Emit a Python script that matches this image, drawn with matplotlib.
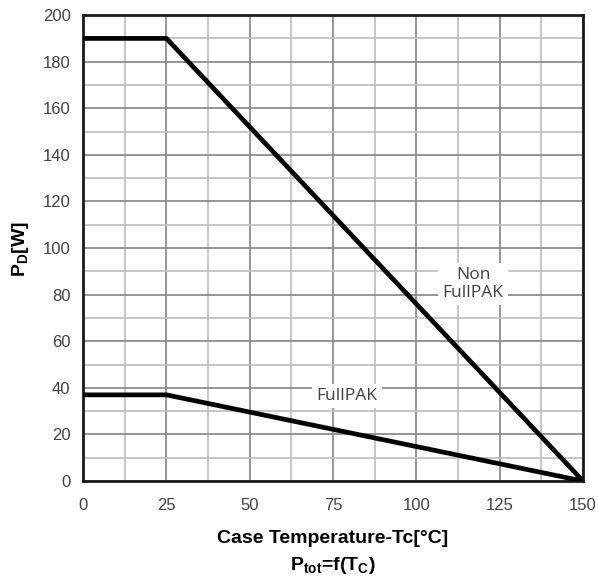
import matplotlib
matplotlib.use("Agg")
import matplotlib.pyplot as plt
from matplotlib.ticker import MultipleLocator

# case temperature [degC] and power dissipation [W]
tc_non = [0, 25, 150]
pd_non = [190, 190, 0]

tc_full = [0, 25, 50, 75, 100, 125, 150]
pd_full = [37, 37, 29.6, 22.2, 14.8, 7.4, 0]

plt.rcParams["font.family"] = ["Liberation Sans", "DejaVu Sans"]

fig = plt.figure(figsize=(5.98, 5.81), dpi=100)
ax = fig.add_axes([0.139, 0.172, 0.836, 0.802])

ax.plot(tc_non, pd_non, color="black", lw=3.4, solid_capstyle="butt", zorder=3)
ax.plot(tc_full, pd_full, color="black", lw=3.4, solid_capstyle="butt", zorder=3)

ax.set_xlim(0, 150)
ax.set_ylim(0, 200)
ax.xaxis.set_major_locator(MultipleLocator(25))
ax.xaxis.set_minor_locator(MultipleLocator(12.5))
ax.yaxis.set_major_locator(MultipleLocator(20))
ax.yaxis.set_minor_locator(MultipleLocator(10))
ax.grid(which="major", color="#8c8c8c", lw=1.3)
ax.grid(which="minor", color="#c0c0c0", lw=1.3)
ax.tick_params(which="both", length=0, labelsize=12, colors="#404040")
ax.tick_params(axis="x", pad=12)
ax.tick_params(axis="y", pad=9)
ax.set_axisbelow(True)
for s in ax.spines.values():
    s.set_linewidth(2)
    s.set_color("#1a1a1a")

box = dict(facecolor="white", edgecolor="none", pad=3)
ax.text(117, 84.7, "Non\nFullPAK", ha="center", va="center", fontsize=12.5,
        family=["Open Sans", "DejaVu Sans"], color="#404040", linespacing=1.15,
        bbox=box, zorder=4)
ax.text(79.2, 36.5, "FullPAK", ha="center", va="center", fontsize=12.5,
        family=["Open Sans", "DejaVu Sans"], color="#404040", bbox=box, zorder=4)

fig.text(0.034, 0.571, r"P$_\mathregular{D}$[W]", rotation=90, ha="center", va="center",
         fontsize=14, fontweight="bold")
fig.text(0.556, 0.074, "Case Temperature-Tc[\u00b0C]", ha="center", va="center",
         fontsize=14, fontweight="bold")
fig.text(0.556, 0.027, r"P$_\mathregular{tot}$=f(T$_\mathregular{C}$)", ha="center",
         va="center", fontsize=14, fontweight="bold")

fig.savefig("out.png", dpi=100)
